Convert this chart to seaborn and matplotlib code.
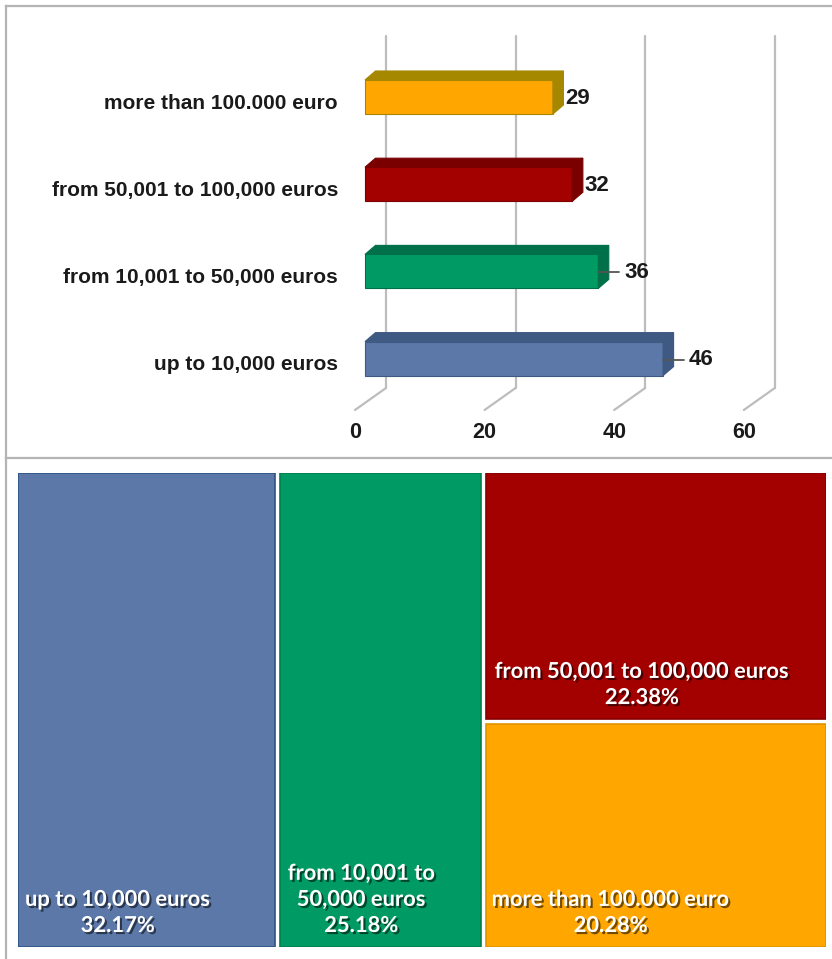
import matplotlib
matplotlib.use("Agg")
import matplotlib.pyplot as plt
import matplotlib.patheffects as pe
from matplotlib.patches import Polygon, Rectangle
import seaborn as sns
import pandas as pd

# ---------------- data ----------------
categories = ["more than 100.000 euro", "from 50,001 to 100,000 euros",
              "from 10,001 to 50,000 euros", "up to 10,000 euros"]
counts = [29, 32, 36, 46]
tick_values = [0, 20, 40, 60]

tm_labels = ["up to 10,000 euros", "from 10,001 to\n50,000 euros",
             "from 50,001 to 100,000 euros", "more than 100.000 euro"]
tm_shares = [32.17, 25.18, 22.38, 20.28]

# ---------------- style ----------------
face = {"more than 100.000 euro": "#FFA600",
        "from 50,001 to 100,000 euros": "#A30000",
        "from 10,001 to 50,000 euros": "#009B65",
        "up to 10,000 euros": "#5B78A8"}
dark = {"more than 100.000 euro": "#A58700",
        "from 50,001 to 100,000 euros": "#7A0000",
        "from 10,001 to 50,000 euros": "#00704A",
        "up to 10,000 euros": "#3F5A82"}
tm_colors = ["#5B78A8", "#009B65", "#A30000", "#FFA600"]
tm_edges = ["#2F5386", "#00804F", "#8A0000", "#E09400"]
grid_c = "#BDBDBD"
frame_c = "#B4B4B4"

W, H = 832, 959
sns.set_theme(style="white")
plt.rcParams["font.family"] = ["Liberation Sans", "DejaVu Sans"]
fig = plt.figure(figsize=(W / 100, H / 100), dpi=100)


def px_axes(x0, y0, x1, y1):
    return fig.add_axes([x0 / W, 1 - y1 / H, (x1 - x0) / W, (y1 - y0) / H])


# ---------------- top: 3D-looking bar chart ----------------
ax = px_axes(6, 6, 832, 458)
s = 6.48          # px per unit along x
zero_px = 365     # pixel of value 0 (bar front)
row0 = 97         # pixel of first row
rstep = 87.2      # px per category
ax.set_xlim((6 - zero_px) / s, (832 - zero_px) / s)

df = pd.DataFrame({"cat": categories, "n": counts})
sns.barplot(data=df, x="n", y="cat", hue="cat", palette=face, orient="h",
            width=0.39, ax=ax, legend=False, saturation=1, zorder=3,
            edgecolor="none")
ax.set_ylim((458 - row0) / rstep, (6 - row0) / rstep)

def ux(p):
    return p / s

def uy(p):
    return p / rstep

# grid (back plane + floor diagonals)
for v in tick_values:
    xb = v + ux(21)
    xf = v - ux(10)
    ax.plot([xb, xb], [uy(36 - row0), uy(388 - row0)], color=grid_c, lw=1.6, zorder=1)
    ax.plot([xf, xb], [uy(410 - row0), uy(388 - row0)], color=grid_c, lw=1.6, zorder=1)
    ax.text(xf, uy(433 - row0), f"{v}", ha="center", va="center",
            fontsize=15.5, fontweight="bold", color="#1a1a1a")

dx, dy = ux(10.5), -uy(9)
leader = [False, False, True, True]
for i, p in enumerate(ax.patches[:len(categories)]):
    x0, y0 = p.get_x(), p.get_y()
    w, h = p.get_width(), p.get_height()
    cat = categories[i]
    ytop, ybot = y0, y0 + h
    p.set_edgecolor(dark[cat])
    p.set_linewidth(0.8)
    top = Polygon([(x0, ytop), (x0 + dx, ytop + dy), (x0 + w + dx, ytop + dy), (x0 + w, ytop)],
                  closed=True, facecolor=dark[cat], edgecolor=dark[cat], lw=0.8, zorder=3)
    side = Polygon([(x0 + w, ytop), (x0 + w + dx, ytop + dy), (x0 + w + dx, ybot + dy), (x0 + w, ybot)],
                   closed=True, facecolor=dark[cat], edgecolor=dark[cat], lw=0.8, zorder=3)
    ax.add_patch(top)
    ax.add_patch(side)
    yc = y0 + h / 2 + uy(1)
    if leader[i]:
        ax.plot([x0 + w, x0 + w + ux(21)], [yc, yc], color="#555555", lw=1.3, zorder=4)
        ax.text(x0 + w + ux(26), yc, f"{counts[i]}", ha="left", va="center",
                fontsize=16, fontweight="bold", color="#1a1a1a")
    else:
        ax.text(x0 + w + dx + ux(2), yc, f"{counts[i]}", ha="left", va="center",
                fontsize=16, fontweight="bold", color="#1a1a1a")
    ax.text(ux(338 - zero_px), i + uy(6), cat, ha="right", va="center",
            fontsize=15, fontweight="bold", color="#1a1a1a")

ax.set_xticks([])
ax.set_yticks([])
ax.set_xlabel("")
ax.set_ylabel("")
for side_name, sp in ax.spines.items():
    sp.set_color(frame_c)
    sp.set_linewidth(1.6)
ax.spines["right"].set_visible(False)

# bottom panel frame (left line)
fig.add_artist(plt.Line2D([5.5 / W, 5.5 / W], [0, 1 - 459 / H], color=frame_c, lw=1.6))

# ---------------- bottom: treemap ----------------
tx0, ty0, tx1, ty1 = 18, 473, 826, 947
tw, th = tx1 - tx0, ty1 - ty0
tax = px_axes(tx0, ty0, tx1, ty1)
tax.set_xlim(0, tw)
tax.set_ylim(th, 0)
tax.axis("off")

gap = 5
total = sum(tm_shares)
avail = tw - 2 * gap
w1 = avail * tm_shares[0] / total
w2 = avail * tm_shares[1] / total
w3 = avail - w1 - w2
hav = th - gap
h_red = hav * tm_shares[2] / (tm_shares[2] + tm_shares[3])
rects = [
    (0, 0, w1, th),
    (w1 + gap, 0, w2, th),
    (w1 + w2 + 2 * gap, 0, w3, h_red),
    (w1 + w2 + 2 * gap, h_red + gap, w3, hav - h_red),
]
shadow = [pe.withSimplePatchShadow(offset=(1.5, -1.5), shadow_rgbFace="black", alpha=0.55)]
pads = [7, 8, 9, 6]
for (x, y, w, h), lab, sh, c, ec, pad in zip(rects, tm_labels, tm_shares, tm_colors, tm_edges, pads):
    tax.add_patch(Rectangle((x, y), w, h, facecolor=c, edgecolor=ec, lw=1.2))
    tax.text(x + pad, y + h - 11, f"{lab}\n{sh:.2f}%", ha="left", va="bottom",
             multialignment="center", fontsize=15.8, fontweight="bold",
             color="white", family=["Lato", "DejaVu Sans"], linespacing=1.3,
             path_effects=shadow)

fig.savefig("out.png", dpi=100)
